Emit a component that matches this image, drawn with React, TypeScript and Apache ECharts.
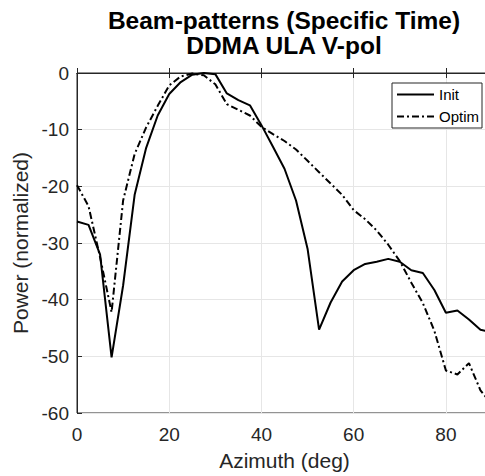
import React, { useEffect, useRef } from "react";
import * as echarts from "echarts";

const azimuth = [0, 2.5, 5, 7.5, 10, 12.5, 15, 17.5, 20, 22.5, 25, 27.5, 30, 32.5, 35, 37.5, 40, 42.5, 45, 47.5, 50, 52.5, 55, 57.5, 60, 62.5, 65, 67.5, 70, 72.5, 75, 77.5, 80, 82.5, 85, 87.5, 90];
const initPower = [-26.2, -26.8, -32.0, -50.2, -37.5, -21.5, -13.2, -7.5, -3.7, -1.6, -0.3, 0, -0.2, -3.6, -4.8, -5.7, -9.2, -13.0, -16.9, -22.5, -31.0, -45.3, -40.5, -36.8, -34.8, -33.7, -33.3, -32.8, -33.3, -34.8, -35.3, -38.3, -42.3, -41.9, -43.5, -45.3, -45.8];
const optimPower = [-19.8, -23.5, -32.5, -42.2, -22.5, -14.3, -9.6, -5.8, -2.2, -0.6, -0.1, -0.4, -2.0, -5.5, -6.5, -7.5, -9.5, -10.8, -12.0, -13.5, -15.5, -17.5, -19.5, -21.5, -24.2, -25.8, -27.8, -30.3, -33.2, -37.0, -40.6, -45.5, -52.5, -53.2, -51.2, -56.0, -58.5];
const xTicks = [0, 20, 40, 60, 80];
const seriesNames = ["Init", "Optim"];
const titleLines = ["Beam-patterns (Specific Time)", "DDMA ULA V-pol"];

const FONT = "'Liberation Sans', Arial, Helvetica, sans-serif";
const AX = "#262626";
const GRID = "#e6e6e6";

export default function App() {
  const ref = useRef<HTMLDivElement>(null);
  useEffect(() => {
    if (!ref.current) return;
    const chart = echarts.init(ref.current, undefined, { renderer: "svg" });
    const pairs = (ys: number[]) => azimuth.map((x, i) => [x, ys[i]]);
    chart.setOption({
      animation: false,
      backgroundColor: "#ffffff",
      textStyle: { fontFamily: FONT },
      title: titleLines.map((t, i) => ({
        text: t,
        left: 284,
        top: 8 + i * 25,
        padding: 0,
        textAlign: "center",
        textStyle: { fontFamily: FONT, fontSize: 24.5, fontWeight: "bold", color: "#000", lineHeight: 24 },
      })),
      legend: {
        orient: "vertical",
        left: 392,
        top: 83,
        padding: [4, 3, 4, 4],
        itemWidth: 37,
        itemHeight: 14,
        itemGap: 7,
        borderColor: AX,
        borderWidth: 1,
        backgroundColor: "#fff",
        data: seriesNames,
        itemStyle: { opacity: 0 },
        textStyle: { fontFamily: FONT, fontSize: 15, color: "#000" },
      },
      grid: { left: 77, right: 8, top: 73, bottom: 63, show: true, borderColor: AX, borderWidth: 1, backgroundColor: "transparent" },
      xAxis: [
        {
          type: "value",
          min: 0,
          max: 90,
          interval: 20,
          name: "Azimuth (deg)",
          nameLocation: "middle",
          nameGap: 37,
          nameTextStyle: { fontFamily: FONT, fontSize: 21, color: AX },
          axisLine: { show: true, lineStyle: { color: AX, width: 1 } },
          axisTick: { show: true, inside: true, length: 5, lineStyle: { color: AX } },
          axisLabel: {
            fontFamily: FONT,
            fontSize: 19,
            color: AX,
            margin: 12,
            formatter: (v: number) => (xTicks.includes(v) ? String(v) : ""),
          },
          splitLine: { show: true, lineStyle: { color: GRID, width: 1 } },
        },
        {
          type: "value",
          position: "top",
          min: 0,
          max: 90,
          interval: 20,
          axisLine: { show: true, lineStyle: { color: AX, width: 1 } },
          axisTick: { show: true, inside: true, length: 5, lineStyle: { color: AX } },
          axisLabel: { show: false },
          splitLine: { show: false },
        },
      ],
      yAxis: {
        type: "value",
        min: -60,
        max: 0,
        interval: 10,
        name: "Power (normalized)",
        nameLocation: "middle",
        nameGap: 42,
        nameTextStyle: { fontFamily: FONT, fontSize: 21, color: AX },
        axisLine: { show: true, lineStyle: { color: AX, width: 1 } },
        axisTick: { show: true, inside: true, length: 5, lineStyle: { color: AX } },
        axisLabel: { fontFamily: FONT, fontSize: 19, color: AX, margin: 8 },
        splitLine: { show: true, lineStyle: { color: GRID, width: 1 } },
      },
      series: [
        {
          name: seriesNames[0],
          type: "line",
          data: pairs(initPower),
          symbol: "none",
          lineStyle: { color: "#000", width: 2, type: "solid" },
          itemStyle: { color: "#000" },
          z: 3,
        },
        {
          name: seriesNames[1],
          type: "line",
          data: pairs(optimPower),
          symbol: "none",
          lineStyle: { color: "#000", width: 2, type: [7, 3, 2, 3] },
          itemStyle: { color: "#000" },
          z: 2,
        },
      ],
    });
    return () => chart.dispose();
  }, []);
  return (
    <div style={{ position: "fixed", left: 0, top: 0, width: 485, height: 476, overflow: "hidden", background: "#fff" }}>
      <div ref={ref} style={{ width: 500, height: 476 }} />
    </div>
  );
}
